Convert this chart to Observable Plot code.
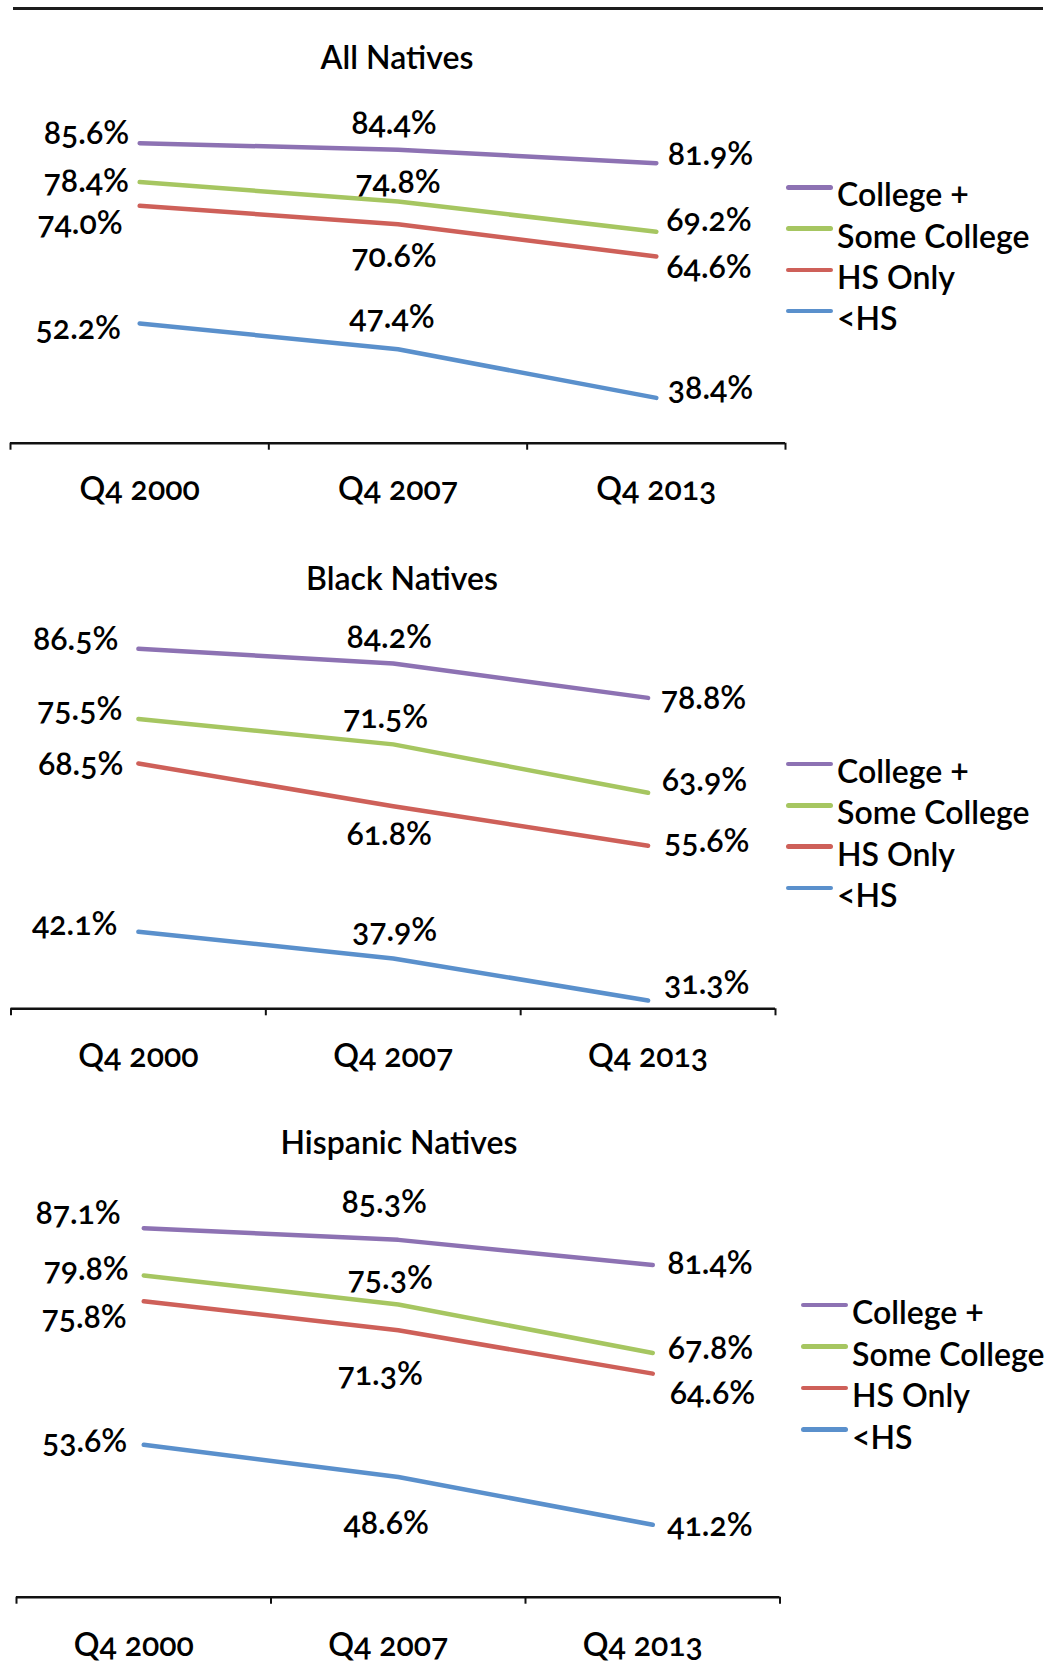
<!DOCTYPE html>
<html>
<head>
<meta charset="utf-8">
<script src="https://cdn.jsdelivr.net/npm/d3@7"></script>
<script src="https://cdn.jsdelivr.net/npm/@observablehq/plot@0.6"></script>
<style>
  html, body { margin: 0; padding: 0; background: #fff; }
  #root { position: relative; width: 1052px; height: 1678px; font-family: Lato, "Open Sans", sans-serif; font-weight: 600; color: #000; overflow: hidden; }
  .rule { position: absolute; left: 13px; top: 7px; width: 1030px; height: 3px; background: #1c1c1c; }
  .title { position: absolute; font-size: 32px; line-height: 32px; white-space: nowrap; transform: translate(-50%, -50%); }
  .legend { position: absolute; }
  .legend .row { display: flex; align-items: center; font-size: 32px; line-height: 32px; white-space: nowrap; }
  .legend .sw { display: inline-block; width: 47px; height: 4.5px; border-radius: 2.5px; margin-right: 4px; position: relative; top: -7px; }
  .panel { position: absolute; left: 0; }
  svg text { font-variant-numeric: oldstyle-nums; font-weight: 600; }
</style>
</head>
<body>
<div id="root"><div class="rule"></div></div>
<script>
// ---- data ----
const periods = ["Q4 2000", "Q4 2007", "Q4 2013"];
const groups = ["College +", "Some College", "HS Only", "<HS"];
const panelTitles = ["All Natives", "Black Natives", "Hispanic Natives"];
// rows follow groups, columns follow periods (percent)
const allNatives = [
  [85.6, 84.4, 81.9],
  [78.4, 74.8, 69.2],
  [74.0, 70.6, 64.6],
  [52.2, 47.4, 38.4]
];
const blackNatives = [
  [86.5, 84.2, 78.8],
  [75.5, 71.5, 63.9],
  [68.5, 61.8, 55.6],
  [42.1, 37.9, 31.3]
];
const hispanicNatives = [
  [87.1, 85.3, 81.4],
  [79.8, 75.3, 67.8],
  [75.8, 71.3, 64.6],
  [53.6, 48.6, 41.2]
];
const panelValues = [allNatives, blackNatives, hispanicNatives];

// ---- styles / layout ----
const colors = ["#8D72B3", "#A6C661", "#CE6059", "#5A90CC"];
const FONT = 32;
const layouts = [
  { top: 0, height: 530, mL: 10, mR: 267, mT: 119, mB: 87.3, catDx: 0, catPad: 34,
    title: [397, 57], legend: { x: 786, c0: 194.5, step: 41.2 },
    nudge: [
      [[-10.5, -10], [-4, -26.7], [11.5, -9]],
      [[-10.7, -1], [0, -19.5], [10, -11.5]],
      [[-17, 17], [-4, 31.5], [10, 10]],
      [[-18.7, 4], [-6, -33], [11.5, -10]]
    ] },
  { top: 530, height: 560, mL: 10.5, mR: 277, mT: 96, mB: 81.7, catDx: 0, catPad: 35,
    title: [402, 578], legend: { x: 786, c0: 771, step: 41.3 },
    nudge: [
      [[-20, -10], [-4, -26.7], [12.7, 0]],
      [[-16, -10], [-7.6, -28], [13.7, -13]],
      [[-15, 0], [-4, 28], [16, -4.5]],
      [[-21, -8], [1.4, -28.5], [16, -18]]
    ] },
  { top: 1090, height: 588, mL: 16, mR: 272.5, mT: 119, mB: 81.3, catDx: -10, catPad: 36,
    title: [399, 1142], legend: { x: 801, c0: 1312, step: 41.5 },
    nudge: [
      [[-23, -15], [-14, -38], [14.5, -2]],
      [[-15, -7], [-8, -27], [15, -5.5]],
      [[-17, 15], [-18, 43], [17, 19]],
      [[-16.5, -4], [-12, 46], [14.5, 0]]
    ] }
];
const anchors = ["end", "middle", "start"];

const root = document.getElementById("root");

panelValues.forEach((vals, p) => {
  const L = layouts[p];
  const rows = [];
  vals.forEach((arr, g) => arr.forEach((v, i) => rows.push({ group: groups[g], g, i, xi: i + 0.5, v })));

  const labelMarks = rows.map(d => Plot.text([d], {
    x: "xi", y: "v",
    text: r => r.v.toFixed(1) + "%",
    textAnchor: anchors[d.i],
    dx: L.nudge[d.g][d.i][0],
    dy: L.nudge[d.g][d.i][1] + 1,
    fontSize: FONT,
    fontWeight: 600,
    fill: "#000"
  }));

  const chart = Plot.plot({
    width: 1052,
    height: L.height,
    marginLeft: L.mL,
    marginRight: L.mR,
    marginTop: L.mT,
    marginBottom: L.mB,
    style: { fontFamily: "Lato, 'Open Sans', sans-serif", fontSize: FONT + "px", overflow: "visible", background: "transparent" },
    x: { domain: [0, 3], axis: null },
    y: { domain: [30, 90], axis: null },
    color: { domain: groups, range: colors },
    marks: [
      Plot.line(rows, { x: "xi", y: "v", z: "group", stroke: "group", strokeWidth: 4.5, strokeLinecap: "round", strokeLinejoin: "round" }),
      ...labelMarks,
      Plot.ruleY([30], { stroke: "#111", strokeWidth: 2.6 }),
      Plot.axisX({ anchor: "bottom", label: null, ticks: [0, 1, 2, 3], tickSize: 7, tickFormat: () => "", stroke: "#111", strokeWidth: 2 }),
      Plot.axisX({ anchor: "bottom", label: null, ticks: [0.5, 1.5, 2.5], tickSize: 0, tickPadding: L.catPad, dx: L.catDx,
        tickFormat: t => periods[Math.round(t - 0.5)], fontSize: FONT, fontWeight: 600, fill: "#000" })
    ]
  });
  chart.classList.add("panel");
  chart.style.top = L.top + "px";
  root.appendChild(chart);

  const t = document.createElement("div");
  t.className = "title";
  t.textContent = panelTitles[p];
  t.style.left = L.title[0] + "px";
  t.style.top = L.title[1] + "px";
  root.appendChild(t);

  const lg = document.createElement("div");
  lg.className = "legend";
  lg.style.left = L.legend.x + "px";
  lg.style.top = (L.legend.c0 - L.legend.step / 2) + "px";
  groups.forEach((g, k) => {
    const row = document.createElement("div");
    row.className = "row";
    row.style.height = L.legend.step + "px";
    const sw = document.createElement("span");
    sw.className = "sw";
    sw.style.background = colors[k];
    const tx = document.createElement("span");
    tx.textContent = g;
    row.appendChild(sw);
    row.appendChild(tx);
    lg.appendChild(row);
  });
  root.appendChild(lg);
});
</script>
</body>
</html>
